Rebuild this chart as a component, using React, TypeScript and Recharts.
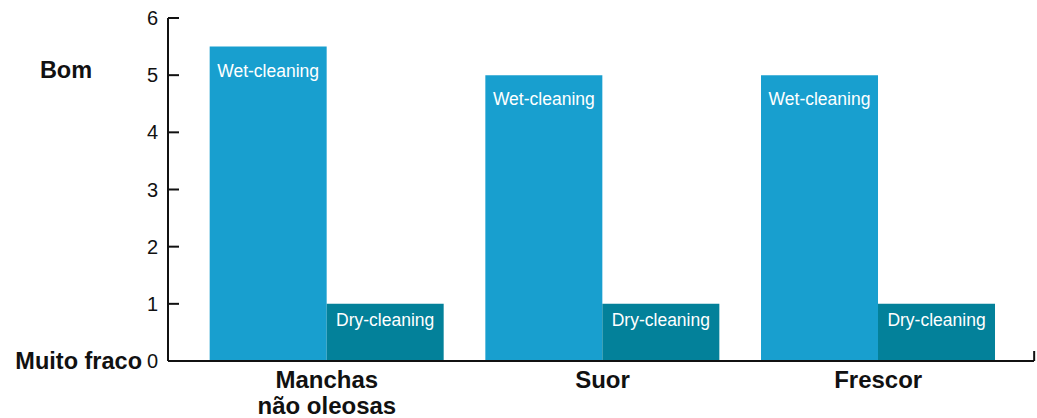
import React from 'react';
import { BarChart, Bar, XAxis, YAxis, LabelList } from 'recharts';

const categories: string[][] = [['Manchas', 'não oleosas'], ['Suor'], ['Frescor']];
const wetValues = [5.5, 5, 5];
const dryValues = [1, 1, 1];
const wetLabel = 'Wet-cleaning';
const dryLabel = 'Dry-cleaning';
const yTicks = [0, 1, 2, 3, 4, 5, 6];
const yTickNames: Record<number, string> = { 5: 'Bom', 0: 'Muito fraco' };

const data = categories.map((c, i) => ({
  name: c.join(' '),
  lines: c,
  wet: wetValues[i],
  dry: dryValues[i],
}));

const FONT = '"Liberation Sans", Arial, Helvetica, sans-serif';
const WET = '#189fcf';
const DRY = '#03819a';

const YTick = (props: any) => {
  const { x, y, payload } = props;
  const v = payload.value as number;
  const name = yTickNames[v];
  return (
    <g>
      <line x1={x} x2={x + 11} y1={y} y2={y} stroke="#111" strokeWidth={2} />
      <text x={x - 10} y={y + 7} textAnchor="end" fontSize={20} fill="#111" fontFamily={FONT}>
        {v}
      </text>
      {name && v === 5 && (
        <text x={66} y={y + 3} textAnchor="middle" fontSize={23.5} fontWeight="bold" fill="#111" fontFamily={FONT}>
          {name}
        </text>
      )}
      {name && v === 0 && (
        <text x={142} y={y + 8} textAnchor="end" fontSize={23.5} fontWeight="bold" fill="#111" fontFamily={FONT}>
          {name}
        </text>
      )}
    </g>
  );
};

const XTick = (props: any) => {
  const { x, y, payload, index } = props;
  const item = data.find((d) => d.name === payload.value);
  const lines = item ? item.lines : [String(payload.value)];
  return (
    <g>
      {lines.map((l, i) => (
        <text key={i} x={x} y={y + 27 + i * 26} textAnchor="middle" fontSize={24} fontWeight="bold" fill="#111" fontFamily={FONT}>
          {l}
        </text>
      ))}
      {index === data.length - 1 && (
        <line x1={x + 156} x2={x + 156} y1={y - 10} y2={y} stroke="#111" strokeWidth={2} />
      )}
    </g>
  );
};

const makeLabel = (text: string, off: number) => (props: any) => {
  const { x, y, width } = props;
  return (
    <text x={x + width / 2} y={y + off} textAnchor="middle" fontSize={17.5} fill="#ffffff" fontFamily={FONT}>
      {text}
    </text>
  );
};

export default function App() {
  return (
    <div style={{ position: 'absolute', left: 0, top: 0, width: 1037, height: 418, background: '#fff' }}>
      <BarChart
        width={1037}
        height={418}
        data={data}
        margin={{ top: 18, right: 3, left: 0, bottom: 0 }}
        barCategoryGap="7.5%"
        barGap={0}
      >
        <XAxis
          dataKey="name"
          height={57}
          padding={{ left: 21, right: 18 }}
          tickLine={false}
          tickSize={0}
          tickMargin={0}
          axisLine={{ stroke: '#111', strokeWidth: 2 }}
          tick={<XTick />}
          interval={0}
        />
        <YAxis
          width={168}
          domain={[0, 6]}
          ticks={yTicks}
          tickLine={false}
          tickSize={0}
          tickMargin={0}
          axisLine={{ stroke: '#111', strokeWidth: 2 }}
          tick={<YTick />}
          interval={0}
        />
        <Bar dataKey="wet" fill={WET} isAnimationActive={false}>
          <LabelList dataKey="wet" content={makeLabel(wetLabel, 30)} />
        </Bar>
        <Bar dataKey="dry" fill={DRY} isAnimationActive={false}>
          <LabelList dataKey="dry" content={makeLabel(dryLabel, 22)} />
        </Bar>
      </BarChart>
    </div>
  );
}
